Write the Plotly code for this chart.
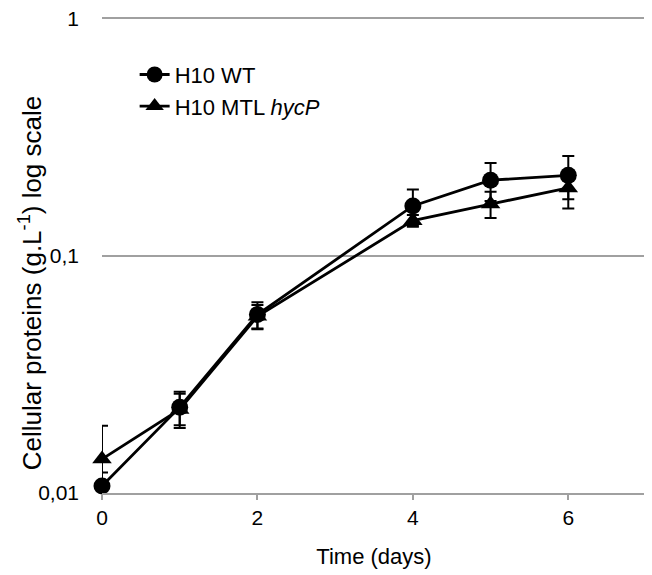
import plotly.graph_objects as go

days = [0, 1, 2, 4, 5, 6]
wt = [0.0107, 0.0230, 0.0565, 0.162, 0.208, 0.218]
wt_err = [0.0015, 0.0037, 0.0072, 0.028, 0.038, 0.045]
mtl = [0.0139, 0.0225, 0.0555, 0.1405, 0.165, 0.193]
mtl_err = [0.0053, 0.0037, 0.0065, 0.008, 0.021, 0.035]

ytick_vals = [0.01, 0.1, 1]
ytick_text = ["0,01", "0,1", "1"]
xtick_vals = [0, 2, 4, 6]

fig = go.Figure()
fig.add_trace(go.Scatter(
    x=days, y=mtl, name="H10 MTL <i>hycP</i>", mode="lines+markers",
    line=dict(color="black", width=2.8),
    marker=dict(symbol="triangle-up", size=17, color="black"),
    error_y=dict(type="data", array=mtl_err, color="black", thickness=2, width=6),
    cliponaxis=False,
))
fig.add_trace(go.Scatter(
    x=days, y=wt, name="H10 WT", mode="lines+markers",
    line=dict(color="black", width=2.8),
    marker=dict(symbol="circle", size=17, color="black"),
    error_y=dict(type="data", array=wt_err, color="black", thickness=2, width=6),
    cliponaxis=False,
))

fig.add_annotation(
    text="Cellular proteins (g.L<sup>-1</sup>) log scale",
    xref="paper", yref="paper", x=-0.132, y=0.44,
    xanchor="center", yanchor="middle", textangle=-90, showarrow=False,
    font=dict(size=26, family="Liberation Sans, Arial, sans-serif", color="black"),
)

fig.update_layout(
    width=644, height=567,
    margin=dict(l=94, r=6, t=8, b=82, autoexpand=False),
    paper_bgcolor="white", plot_bgcolor="white",
    font=dict(family="Liberation Sans, Arial, sans-serif", size=21, color="black"),
    showlegend=True,
    legend=dict(x=0.06, y=0.921, xanchor="left", yanchor="top",
                traceorder="reversed", font=dict(size=22),
                bgcolor="rgba(0,0,0,0)", tracegroupgap=0),
    xaxis=dict(range=[0, 7], tickvals=xtick_vals, showgrid=False, zeroline=False,
               showline=True, linecolor="#a0a0a0", linewidth=2,
               ticks="outside", ticklen=5, tickwidth=2, tickcolor="#a0a0a0",
               automargin=False,
               title=dict(text="Time (days)", font=dict(size=22), standoff=20)),
    yaxis=dict(type="log", range=[-2, 0.01], tickvals=ytick_vals, ticktext=ytick_text,
               showgrid=True, gridcolor="#a0a0a0", gridwidth=2, zeroline=False,
               showline=False, ticks="", ticklabelstandoff=22, automargin=False,
               ticklabeloverflow="allow"),
)

fig.write_html("out.html")
